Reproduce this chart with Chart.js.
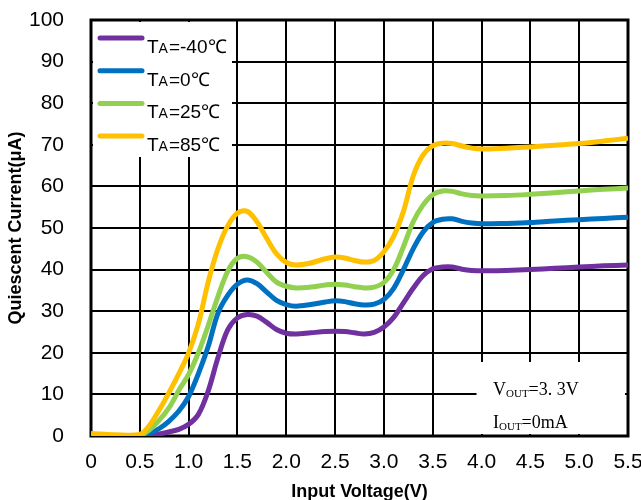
<!DOCTYPE html>
<html>
<head>
<meta charset="utf-8">
<script src="https://cdn.jsdelivr.net/npm/chart.js@4.4.0/dist/chart.umd.min.js"></script>
<style>
  html, body { margin: 0; padding: 0; background: #fff; }
</style>
</head>
<body>
<canvas id="chart" width="641" height="500"></canvas>
<script>
// input voltage sweep (V)
const voltage = [0, 0.25, 0.5, 0.6, 0.7, 0.8, 0.9, 1.0, 1.1, 1.2, 1.3, 1.4, 1.5, 1.6, 1.7, 1.8, 1.9, 2.0, 2.1,
  2.25, 2.4, 2.5, 2.6, 2.7, 2.8, 2.9, 3.0, 3.1, 3.2, 3.3, 3.4, 3.5, 3.6, 3.7, 3.8, 3.9, 4.0,
  4.25, 4.5, 4.75, 5.0, 5.25, 5.5];

// quiescent current (uA) at each temperature
const iqM40 = [0, 0, 0, 0.2, 0.5, 1, 1.6, 2.8, 5.2, 10.8, 18.8, 25.5, 28.4, 29.2, 28.8, 27.3, 25.6, 24.7, 24.5,
  24.8, 25.1, 25.2, 25.1, 24.8, 24.5, 24.9, 26.2, 28.5, 32, 35.5, 38.5, 40.2, 40.6, 40.6, 40.1, 39.8, 39.7,
  39.8, 40.0, 40.3, 40.6, 40.9, 41.1];
const iq0 = [0.1, 0.05, 0, 0.6, 1.8, 3.6, 6, 9.5, 15, 21.5, 29.5, 33.8, 36.5, 37.5, 36.6, 34.6, 32.6, 31.6, 31.2,
  31.6, 32.2, 32.5, 32.3, 31.8, 31.5, 31.7, 32.8, 35.5, 40, 45, 49, 51.3, 52.1, 52.2, 51.6, 51.2, 51.0,
  51.1, 51.3, 51.7, 52.0, 52.3, 52.6];
const iq25 = [0.2, 0.1, 0.1, 1.5, 3.8, 6.8, 11, 14.8, 20, 26.5, 33.5, 39.6, 42.7, 43.1, 41.8, 39.3, 37, 36, 35.6,
  35.8, 36.3, 36.5, 36.3, 35.9, 35.6, 35.8, 36.9, 40, 45.5, 51.5, 55.5, 58, 58.9, 58.8, 58.2, 57.8, 57.7,
  57.8, 58.1, 58.5, 58.9, 59.3, 59.6];
const iq85 = [0.6, 0.3, 0.4, 2.6, 6.3, 10.5, 15, 20, 27, 37, 45, 50.5, 53.6, 54, 51.5, 47.5, 43.8, 41.7, 41.1,
  41.6, 42.6, 43, 42.8, 42.2, 41.8, 42.2, 44.3, 48, 54, 62.5, 67.5, 69.8, 70.4, 70.3, 69.7, 69.2, 69.0,
  69.2, 69.5, 69.9, 70.3, 70.9, 71.6];

const temps = ['-40', '0', '25', '85'];
const colors = ['#7030A0', '#0070C0', '#92D050', '#FFC000'];
const seriesList = [iqM40, iq0, iq25, iq85];

const xTicks = { min: 0, max: 5.5, step: 0.5 };
const yTicks = { min: 0, max: 100, step: 10 };

const sans = '"Liberation Sans", Arial, sans-serif';
const serif = '"Liberation Serif", "Times New Roman", serif';

function toPoints(values) {
  return values.map((v, i) => ({ x: voltage[i], y: v }));
}

// white legend panel, condition note and the heavy frame, drawn under the curves
const panelPlugin = {
  id: 'panels',
  beforeDatasetsDraw(chart) {
    const { ctx, chartArea: a } = chart;
    const xs = chart.scales.x;
    ctx.save();

    ctx.fillStyle = '#fff';
    ctx.fillRect(a.left + 2, a.top + 2, 139, 135);
    const noteLeft = xs.getPixelForValue(4) - 5;
    ctx.fillRect(noteLeft, 362, a.right - 3 - noteLeft, a.bottom - 2 - 362);

    ctx.strokeStyle = '#000';
    ctx.lineWidth = 3;
    ctx.strokeRect(a.left, a.top, a.right - a.left, a.bottom - a.top);

    // legend entries
    ctx.lineCap = 'round';
    ctx.textBaseline = 'alphabetic';
    temps.forEach((t, i) => {
      const y = a.top + 18 + i * 32.7;
      ctx.strokeStyle = colors[i];
      ctx.lineWidth = 5;
      ctx.beginPath();
      ctx.moveTo(a.left + 9, y);
      ctx.lineTo(a.left + 51, y);
      ctx.stroke();

      let x = a.left + 56;
      const base = y + 15;
      ctx.fillStyle = '#000';
      ctx.font = '19px ' + sans;
      ctx.fillText('T', x, base);
      x += ctx.measureText('T').width;
      ctx.font = '14px ' + sans;
      ctx.fillText('A', x, base);
      x += ctx.measureText('A').width + 1;
      ctx.font = '19px ' + sans;
      ctx.fillText('=' + t + '\u2103', x, base);
    });

    // test condition note
    const lines = [['V', 'OUT', '=3. 3V', 395], ['I', 'OUT', '=0mA', 428]];
    lines.forEach(([main, sub, rest, base]) => {
      let x = 493;
      ctx.font = '18px ' + serif;
      ctx.fillText(main, x, base);
      x += ctx.measureText(main).width;
      ctx.font = '11px ' + serif;
      ctx.fillText(sub, x, base + 2);
      x += ctx.measureText(sub).width;
      ctx.font = '18px ' + serif;
      ctx.fillText(rest, x, base);
    });

    ctx.restore();
  }
};

new Chart(document.getElementById('chart'), {
  type: 'line',
  data: {
    datasets: seriesList.map((s, i) => ({
      label: 'TA=' + temps[i] + '\u2103',
      data: toPoints(s),
      borderColor: colors[i],
      backgroundColor: colors[i],
      borderWidth: 5,
      pointRadius: 0,
      fill: false,
      tension: 0.35,
      borderJoinStyle: 'round',
      order: 3 - i
    }))
  },
  options: {
    responsive: false,
    animation: false,
    layout: { padding: { top: 20, right: 13, left: 0, bottom: 0 } },
    plugins: { legend: { display: false }, tooltip: { enabled: false } },
    scales: {
      x: {
        type: 'linear',
        min: xTicks.min,
        max: xTicks.max,
        ticks: {
          stepSize: xTicks.step,
          color: '#000',
          font: { family: sans, size: 21 },
          padding: 14,
          maxRotation: 0,
          autoSkip: false
        },
        grid: { color: '#000', lineWidth: 2, drawTicks: false },
        border: { display: false },
        title: {
          display: true,
          text: 'Input Voltage(V)',
          color: '#000',
          font: { family: sans, size: 18, weight: 'bold' },
          padding: { top: 0, bottom: -3 }
        },
        afterFit(s) { s.height = 64; s.paddingLeft = 0; s.paddingRight = 0; }
      },
      y: {
        min: yTicks.min,
        max: yTicks.max,
        ticks: {
          stepSize: yTicks.step,
          color: '#000',
          font: { family: sans, size: 21 },
          padding: 27
        },
        grid: { color: '#000', lineWidth: 2, drawTicks: false },
        border: { display: false },
        title: {
          display: true,
          text: 'Quiescent Current(\u03bcA)',
          color: '#000',
          font: { family: sans, size: 18, weight: 'bold' },
          padding: { top: 5, bottom: 0 }
        },
        afterFit(s) { s.width = 91; s.paddingTop = 0; s.paddingBottom = 0; }
      }
    }
  },
  plugins: [panelPlugin]
});
</script>
</body>
</html>
